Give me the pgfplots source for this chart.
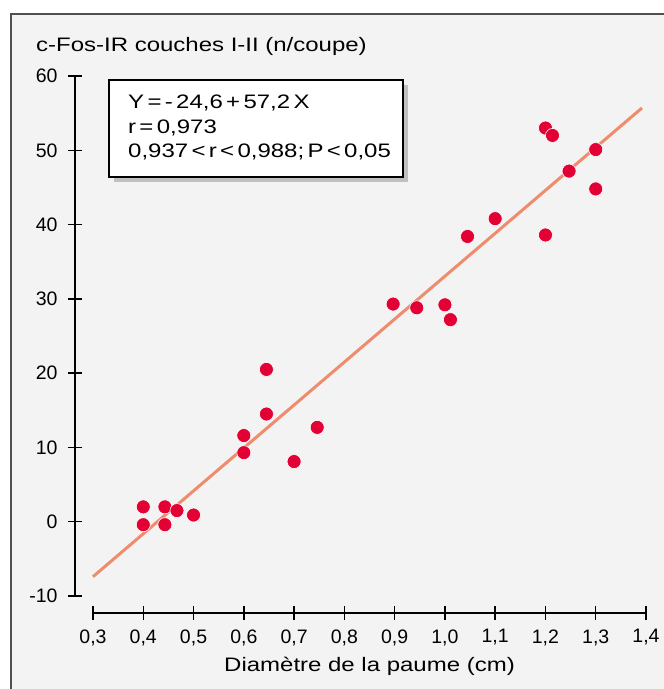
\documentclass[border=0pt]{standalone}
\usepackage{fontspec}
\usepackage{graphicx}
\setmainfont{Liberation Sans}
\newfontfamily\boxfont{Liberation Sans}[WordSpace=0.5]
\usepackage{pgfplots}
\pgfplotsset{compat=1.18}

\definecolor{dotred}{RGB}{226,0,52}
\definecolor{fitline}{RGB}{240,140,110}
\definecolor{panel}{RGB}{243,243,243}
\definecolor{framegray}{RGB}{80,80,80}
\definecolor{shadowgray}{RGB}{192,192,192}

\newcommand{\wide}[1]{\scalebox{1.23}[1]{#1}}

\begin{document}
\begin{tikzpicture}[x=1pt,y=1pt]
\useasboundingbox (0,0) rectangle (664,-689);
\fill[white] (0,0) rectangle (664,-689);
\filldraw[fill=panel, draw=framegray, line width=2pt] (11,-13.5) rectangle (675,-700);

\begin{axis}[
    at={(93pt,-596pt)}, anchor=south west,
    scale only axis, width=553pt, height=520pt,
    xmin=0.3, xmax=1.4, ymin=-10, ymax=60,
    axis lines=left,
    axis x line shift=17pt, axis y line shift=18pt,
    axis line style={-, line width=1.6pt, black},
    tick align=center, major tick length=14pt,
    tick style={line width=1.4pt, black},
    xtick={0.3,0.4,0.5,0.6,0.7,0.8,0.9,1.0,1.1,1.2,1.3,1.4},
    xticklabels={{0,3},{0,4},{0,5},{0,6},{0,7},{0,8},{0,9},{1,0},{1,1},{1,2},{1,3},{1,4}},
    ytick={-10,0,10,20,30,40,50,60},
    yticklabels={-10,0,10,20,30,40,50,60},
    ticklabel style={font=\fontsize{19.5}{22}\selectfont},
    xticklabel style={yshift=-6pt},
    yticklabel style={xshift=-7pt},
    clip=false,
  ]
  \addplot[fitline, line width=3pt] coordinates {(0.3,-7.4) (1.392,55.7)};
  \addplot[only marks, mark=*, mark size=7pt,
    mark options={fill=dotred, draw=white, line width=0.6pt}] coordinates {
    (0.4,2.0) (0.4,-0.4) (0.443,2.0) (0.443,-0.4) (0.467,1.5) (0.5,0.9)
    (0.6,11.6) (0.6,9.3) (0.645,14.5) (0.645,20.5) (0.7,8.1) (0.746,12.7)
    (0.897,29.3) (0.944,28.8) (1.0,29.2) (1.011,27.2) (1.045,38.4) (1.1,40.8)
    (1.2,38.6) (1.2,53.0) (1.214,52.0) (1.247,47.2) (1.3,50.1) (1.3,44.8)
  };
\end{axis}

\node[anchor=base west, inner sep=0, font=\fontsize{19.5}{24}\selectfont]
  at (36,-51) {\wide{c-Fos-IR couches I-II (n/coupe)}};
\node[anchor=base, inner sep=0, font=\fontsize{19.5}{24}\selectfont]
  at (369.5,-671) {\wide{Diamètre de la paume (cm)}};

\fill[shadowgray] (114,-85) rectangle (408,-182);
\filldraw[fill=white, draw=black, line width=1.2pt] (109,-80) rectangle (403,-177);
\begin{scope}[every node/.style={anchor=base west, inner sep=0,
    font=\boxfont\fontsize{19.5}{24}\selectfont}]
  \node at (128,-108) {\wide{Y = - 24,6 + 57,2 X}};
  \node at (128,-133) {\wide{r = 0,973}};
  \node at (128,-157) {\wide{0,937 < r < 0,988; P < 0,05}};
\end{scope}
\end{tikzpicture}
\end{document}
